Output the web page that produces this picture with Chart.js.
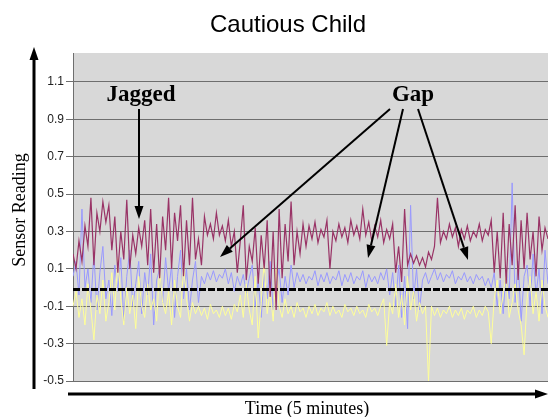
<!DOCTYPE html>
<html>
<head>
<meta charset="utf-8">
<script src="https://cdn.jsdelivr.net/npm/chart.js@4/dist/chart.umd.min.js"></script>
<style>
  body { margin: 0; background: #fff; }
  canvas { display: block; }
</style>
</head>
<body>
<canvas id="grafica" width="548" height="417"></canvas>
<script>
// lecturas del sensor, una cada ~3 px del original
const lecturaRoja = [
  0.18, 0.10, 0.25, 0.14, 0.33, 0.22, 0.48, 0.12, 0.40, 0.30,
  0.46, 0.35, 0.44, 0.20, 0.38, 0.08, 0.30, 0.15, 0.47, 0.10,
  0.28, 0.18, 0.32, 0.22, 0.36, 0.12, 0.42, 0.08, 0.34, 0.05,
  0.38, 0.20, 0.48, 0.10, 0.40, 0.25, 0.44, 0.06, 0.36, 0.12,
  0.48, 0.15, 0.26, 0.12, 0.38, 0.28, 0.34, 0.26, 0.40, 0.28,
  0.33, 0.25, 0.36, 0.22, 0.30, 0.08, 0.25, 0.44, 0.04, 0.22,
  0.14, 0.32, 0.02, 0.28, 0.10, 0.36, -0.05, 0.30, -0.12, 0.42,
  0.05, 0.34, 0.14, 0.46, 0.12, 0.30, 0.18, 0.34, 0.22, 0.33,
  0.26, 0.35, 0.24, 0.31, 0.27, 0.36, 0.10, 0.30, 0.25, 0.34,
  0.27, 0.32, 0.24, 0.36, 0.28, 0.33, 0.26, 0.42, 0.28, 0.35,
  0.25, 0.33, 0.27, 0.36, 0.24, 0.31, 0.26, 0.34, 0.08, 0.22,
  0.03, 0.42, 0.12, 0.18, 0.13, 0.17, 0.12, 0.16, 0.11, 0.19,
  0.15, 0.22, 0.48, 0.24, 0.30, 0.26, 0.34, 0.27, 0.32, 0.22,
  0.31, 0.26, 0.33, 0.25, 0.30, 0.27, 0.34, 0.25, 0.31, 0.28,
  0.36, 0.08, 0.30, 0.05, 0.40, 0.02, 0.34, 0.12, 0.44, 0.04,
  0.36, 0.10, 0.40, 0.15, 0.30, 0.06, 0.38, 0.20, 0.32, 0.26
];
const lecturaAzul = [
  0.06, 0.14, -0.04, 0.42, 0.00, 0.10, -0.08, 0.18, -0.12, 0.08,
  0.22, -0.06, 0.04, -0.15, 0.12, -0.02, 0.16, -0.18, 0.06, 0.20,
  -0.10, 0.02, 0.14, -0.14, 0.08, -0.04, 0.18, -0.20, 0.04, 0.10,
  -0.08, 0.16, -0.02, 0.12, -0.16, 0.06, 0.20, -0.06, 0.10, -0.12,
  0.04, 0.14, -0.08, 0.06, 0.02, 0.08, 0.04, 0.09, 0.03, 0.07,
  0.05, 0.10, 0.02, 0.08, -0.02, 0.06, 0.01, 0.07, -0.03, 0.05,
  0.12, -0.10, 0.04, -0.16, 0.08, -0.06, 0.14, -0.12, 0.02, 0.10,
  -0.08, 0.06, -0.04, 0.12, 0.00, 0.08, 0.03, 0.07, 0.02, 0.06,
  0.04, 0.09, 0.01, 0.07, 0.03, 0.08, 0.02, 0.06, 0.04, 0.09,
  0.01, 0.07, 0.03, 0.08, 0.02, 0.06, 0.04, 0.09, 0.00, 0.07,
  0.03, 0.06, 0.02, 0.08, 0.04, 0.10, -0.04, 0.08, -0.10, 0.12,
  -0.16, 0.06, -0.22, 0.44, -0.06, 0.10, -0.12, 0.04, 0.08, 0.02,
  0.06, 0.10, 0.04, 0.08, 0.03, 0.07, 0.05, 0.09, 0.02, 0.06,
  0.04, 0.08, 0.03, 0.06, 0.02, 0.07, 0.04, 0.06, 0.01, 0.05,
  0.00, 0.08, -0.10, 0.04, -0.14, 0.10, -0.06, 0.56, -0.08, 0.14,
  -0.18, 0.06, 0.12, -0.10, 0.18, -0.04, 0.10, -0.14, 0.20, 0.02
];
const lecturaAmarilla = [
  -0.10, -0.02, -0.16, -0.06, -0.20, 0.02, -0.12, -0.28, -0.04, -0.14,
  0.04, -0.18, -0.08, 0.08, -0.12, 0.16, -0.06, -0.20, 0.00, -0.14,
  -0.04, -0.22, 0.06, -0.10, -0.16, 0.02, -0.12, -0.06, -0.18, 0.10,
  -0.08, -0.14, -0.02, -0.20, 0.04, -0.10, -0.16, 0.12, -0.06, -0.18,
  -0.08, -0.14, -0.10, -0.15, -0.11, -0.17, -0.09, -0.14, -0.12, -0.16,
  -0.10, -0.15, -0.11, -0.17, -0.09, -0.13, -0.04, -0.16, 0.02, -0.12,
  -0.20, 0.06, -0.27, -0.08, 0.14, -0.14, -0.02, -0.18, 0.10, -0.10,
  -0.16, -0.06, -0.14, -0.10, -0.16, -0.08, -0.13, -0.11, -0.16, -0.10,
  -0.14, -0.09, -0.15, -0.11, -0.13, -0.08, -0.15, -0.10, -0.14, -0.12,
  -0.16, -0.09, -0.13, -0.11, -0.15, -0.10, -0.14, -0.12, -0.16, -0.09,
  -0.13, -0.11, -0.15, -0.10, -0.06, -0.31, -0.08, -0.14, 0.02, -0.16,
  -0.04, -0.20, 0.06, -0.12, -0.02, -0.18, -0.08, -0.14, -0.10, -0.50,
  -0.10, -0.15, -0.11, -0.16, -0.12, -0.14, -0.10, -0.16, -0.12, -0.15,
  -0.11, -0.17, -0.12, -0.14, -0.10, -0.16, -0.12, -0.15, -0.10, -0.13,
  -0.30, -0.06, 0.04, -0.14, -0.04, 0.08, -0.16, -0.08, 0.02, -0.12,
  -0.20, -0.36, -0.06, 0.06, -0.14, -0.02, -0.18, 0.04, -0.10, -0.16
];
// linea base negra (punteada) alrededor de cero
const lineaBaseX = [0, 159];
const lineaBaseY = [-0.01, -0.01];
const ticksY = [-0.5, -0.3, -0.1, 0.1, 0.3, 0.5, 0.7, 0.9, 1.1];

const aPuntos = serie => serie.map((v, i) => ({ x: i, y: v }));

function flecha(ctx, x1, y1, x2, y2, grosor, largo, ancho) {
    const ang = Math.atan2(y2 - y1, x2 - x1);
    const bx = x2 - Math.cos(ang) * largo;
    const by = y2 - Math.sin(ang) * largo;
    ctx.strokeStyle = '#000';
    ctx.fillStyle = '#000';
    ctx.lineWidth = grosor;
    ctx.beginPath();
    ctx.moveTo(x1, y1);
    ctx.lineTo(bx, by);
    ctx.stroke();
    ctx.beginPath();
    ctx.moveTo(x2, y2);
    ctx.lineTo(bx + Math.sin(ang) * ancho / 2, by - Math.cos(ang) * ancho / 2);
    ctx.lineTo(bx - Math.sin(ang) * ancho / 2, by + Math.cos(ang) * ancho / 2);
    ctx.closePath();
    ctx.fill();
}

const decorado = {
    id: 'decorado',
    beforeDraw(chart) {
        const { ctx, chartArea: a } = chart;
        ctx.save();
        ctx.fillStyle = '#d8d8d8';
        ctx.fillRect(a.left, a.top, a.right - a.left, a.bottom - a.top);
        ctx.restore();
    },
    afterDraw(chart) {
        const ctx = chart.ctx;
        ctx.save();
        // titulo
        ctx.fillStyle = '#000';
        ctx.textAlign = 'center';
        ctx.textBaseline = 'alphabetic';
        ctx.font = '24px "Liberation Sans", Arial, sans-serif';
        ctx.fillText('Cautious Child', 288, 32);

        // ejes con flecha
        flecha(ctx, 34, 389, 34, 47, 3, 13, 9);
        flecha(ctx, 68, 394, 548, 394, 3, 13, 9);

        ctx.font = '18px "Liberation Serif", "Times New Roman", serif';
        ctx.textBaseline = 'middle';
        ctx.fillText('Time (5 minutes)', 307, 409);
        ctx.save();
        ctx.translate(20, 210);
        ctx.rotate(-Math.PI / 2);
        ctx.fillText('Sensor Reading', 0, 0);
        ctx.restore();

        // anotaciones
        ctx.font = 'bold 23px "Liberation Serif", "Times New Roman", serif';
        ctx.textBaseline = 'alphabetic';
        ctx.fillText('Jagged', 141, 101);
        ctx.fillText('Gap', 413, 101);
        flecha(ctx, 139, 109, 139, 219, 2, 13, 9);
        flecha(ctx, 390, 109, 220, 257, 2, 13, 9);
        flecha(ctx, 403, 109, 368, 258, 2, 13, 9);
        flecha(ctx, 418, 109, 468, 260, 2, 13, 9);
        ctx.restore();
    }
};

const ctx = document.getElementById('grafica').getContext('2d');
const myChart = new Chart(ctx, {
    type: 'line',
    data: {
        datasets: [
            {
                label: 'Rojo',
                data: aPuntos(lecturaRoja),
                borderColor: '#993366',
                borderWidth: 1.2,
                order: 0
            },
            {
                label: 'Base',
                data: lineaBaseX.map((x, i) => ({ x: x, y: lineaBaseY[i] })),
                borderColor: '#000',
                borderWidth: 3,
                borderDash: [7, 2],
                order: 1
            },
            {
                label: 'Amarillo',
                data: aPuntos(lecturaAmarilla),
                borderColor: '#ffff99',
                borderWidth: 1,
                order: 2
            },
            {
                label: 'Azul',
                data: aPuntos(lecturaAzul),
                borderColor: '#9999ff',
                borderWidth: 1,
                order: 3
            }
        ]
    },
    options: {
        responsive: false,
        animation: false,
        layout: { padding: { top: 53, bottom: 36, left: 0, right: 0 } },
        elements: { point: { radius: 0 }, line: { tension: 0 } },
        plugins: {
            legend: { display: false },
            title: { display: false },
            tooltip: { enabled: false }
        },
        scales: {
            x: {
                type: 'linear',
                min: 0,
                max: 159,
                display: false
            },
            y: {
                min: -0.5,
                max: 1.255,
                afterBuildTicks: scale => {
                    scale.ticks = ticksY.map(v => ({ value: v }));
                },
                afterFit: scale => {
                    scale.width = 73;
                },
                grid: {
                    color: '#6e6e6e',
                    tickLength: 7,
                    drawTicks: true
                },
                border: { display: true, color: '#6e6e6e' },
                ticks: {
                    padding: 2,
                    color: '#222',
                    font: { family: '"Liberation Sans", Arial, sans-serif', size: 12 },
                    callback: v => v.toFixed(1)
                }
            }
        }
    },
    plugins: [decorado]
});
</script>
</body>
</html>
